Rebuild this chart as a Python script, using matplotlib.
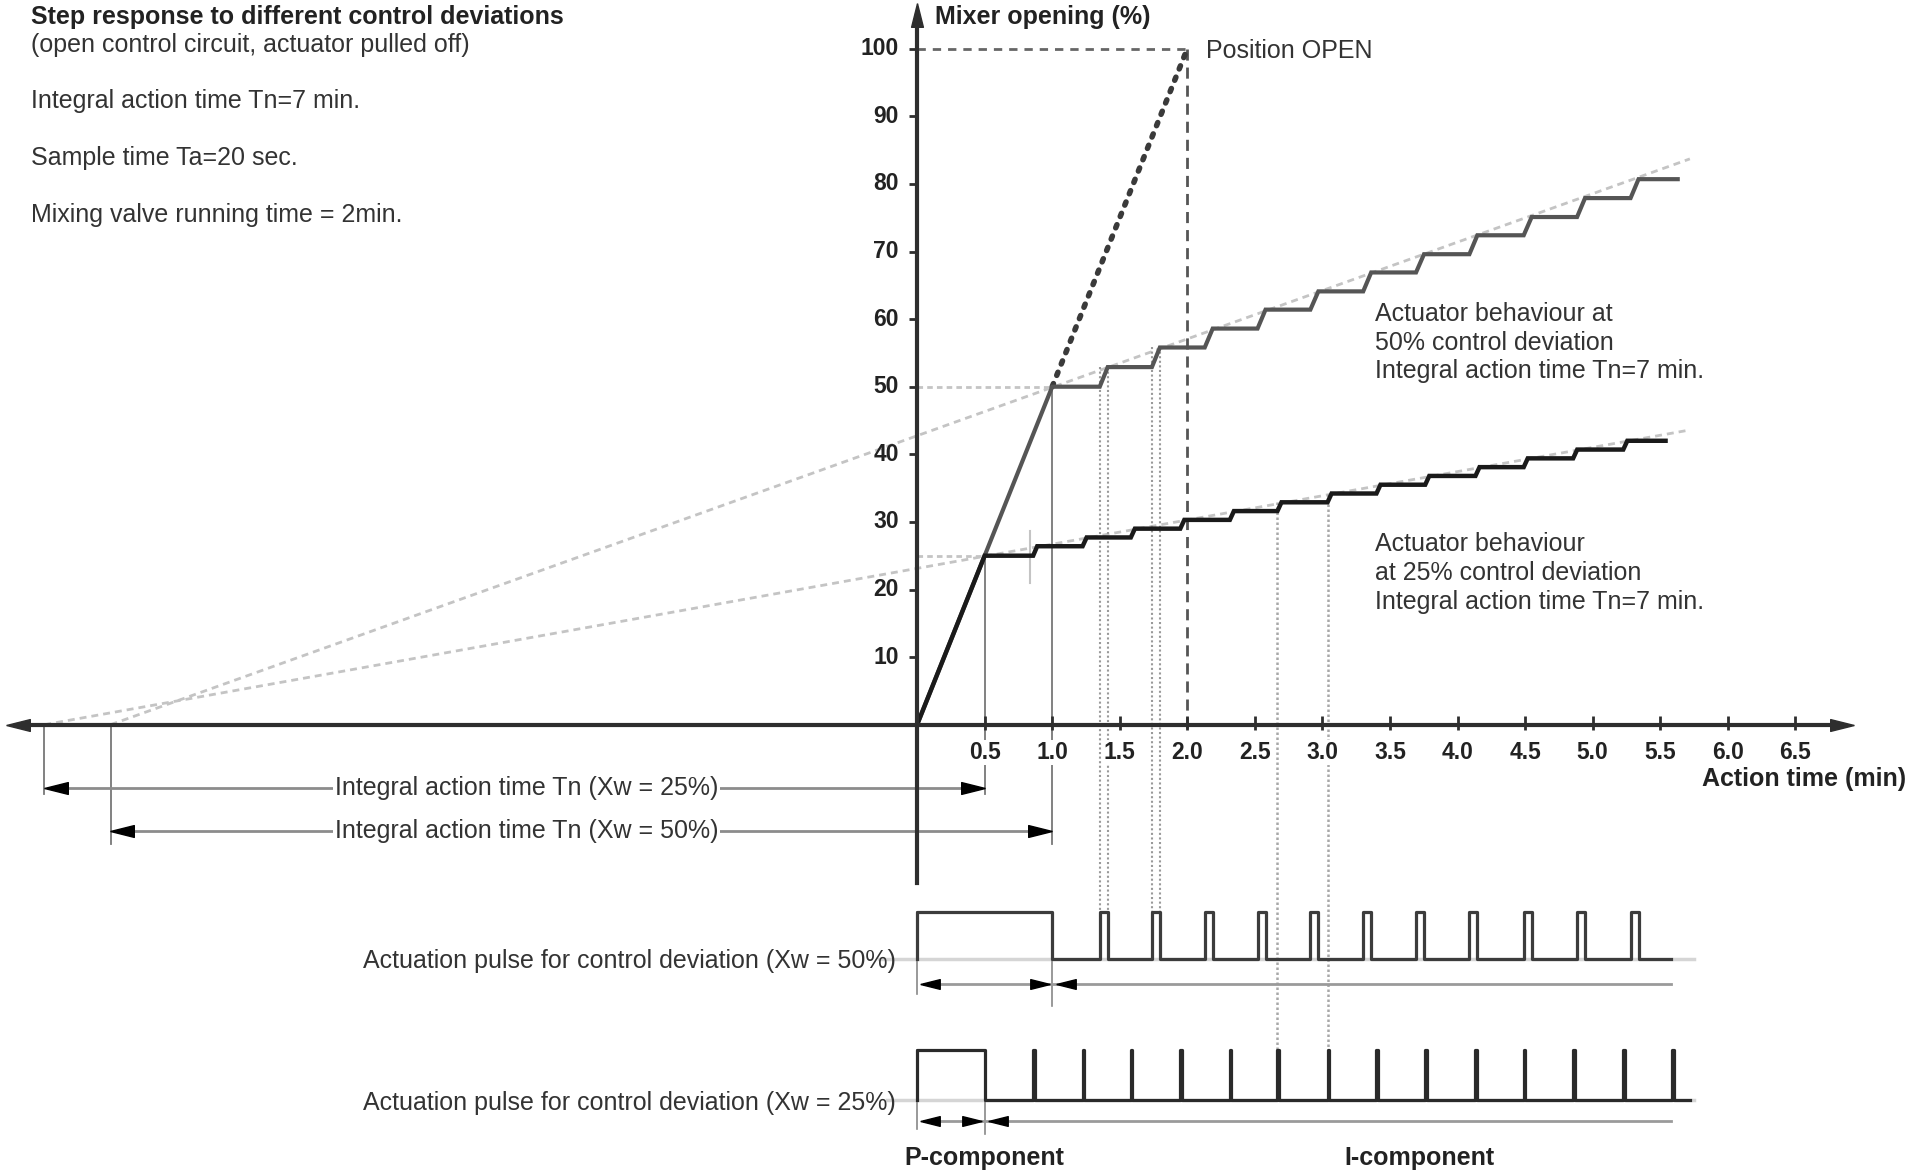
import numpy as np
import matplotlib.pyplot as plt

plt.rcParams['font.family'] = ['Liberation Sans', 'DejaVu Sans']

# --- data ---
x_ticks = [0.5, 1.0, 1.5, 2.0, 2.5, 3.0, 3.5, 4.0, 4.5, 5.0, 5.5, 6.0, 6.5]
x_tick_labels = ['0.5', '1.0', '1.5', '2.0', '2.5', '3.0', '3.5', '4.0', '4.5', '5.0', '5.5', '6.0', '6.5']
y_ticks = [10, 20, 30, 40, 50, 60, 70, 80, 90, 100]
y_tick_labels = ['10', '20', '30', '40', '50', '60', '70', '80', '90', '100']

valve_open_time = 2.0      # min until position OPEN
open_level = 100

# 50 % control deviation
p50_time = 1.0
pulse50_start = [1.352, 1.738, 2.129, 2.52, 2.911, 3.302, 3.693, 4.088, 4.49, 4.885, 5.281]
pulse50_width = 0.059
step50_levels = [50.0, 52.9, 55.8, 58.6, 61.4, 64.1, 66.9, 69.6, 72.4, 75.1, 77.9, 80.7]
curve50_end = 5.63
ref50_x = [-5.97, 5.72]
ref50_y = [0.0, 83.7]

# 25 % control deviation
p25_time = 0.5
pulse25_start = [0.859, 1.225, 1.582, 1.948, 2.315, 2.667, 3.038, 3.40, 3.761, 4.133, 4.49, 4.856, 5.227, 5.589]
pulse25_width = 0.012
step25_levels = [25.0, 26.4, 27.7, 29.0, 30.3, 31.6, 32.9, 34.2, 35.5, 36.8, 38.1, 39.4, 40.7, 42.0]
curve25_end = 5.54
ref25_x = [-6.46, 5.72]
ref25_y = [0.0, 43.6]

info_lines = ['(open control circuit, actuator pulled off)', 'Integral action time Tn=7 min.',
              'Sample time Ta=20 sec.', 'Mixing valve running time = 2min.']
note50 = ['Actuator behaviour at', '50% control deviation', 'Integral action time Tn=7 min.']
note25 = ['Actuator behaviour', 'at 25% control deviation', 'Integral action time Tn=7 min.']

# --- layout: map of the drawing (pixels of the 1910x1176 picture) ---
W, H = 1910, 1176
X0_PX, PX_PER_MIN = 917.1, 135.1
Y0_PX, PX_PER_PCT = 724.7, 6.76

fig = plt.figure(figsize=(W / 100, H / 100), dpi=100)
ax = fig.add_axes([0, 0, 1, 1])
ax.set_xlim(-X0_PX / PX_PER_MIN, (W - X0_PX) / PX_PER_MIN)
ax.set_ylim(-(H - Y0_PX) / PX_PER_PCT, Y0_PX / PX_PER_PCT)
ax.axis('off')

DARK = '#2e2e2e'
MID = '#555555'
LIGHT = '#c4c4c4'
TXT = '#333333'

HEAD_MS = 17
head_dx = 0.5 * HEAD_MS / 72 * 100 / PX_PER_MIN
head_dy = 0.5 * HEAD_MS / 72 * 100 / PX_PER_PCT
LEFT = [(-1, 0), (1, -0.5), (1, 0.5), (-1, 0)]
RIGHT = [(1, 0), (-1, -0.5), (-1, 0.5), (1, 0)]
UP = [(0, 1), (-0.5, -1), (0.5, -1), (0, 1)]


def head(x, y, kind, ms=HEAD_MS, color='black'):
    if kind == 'left':
        ax.plot(x + ms / HEAD_MS * head_dx, y, marker=LEFT, ms=ms, color=color, ls='none', zorder=6)
    elif kind == 'right':
        ax.plot(x - ms / HEAD_MS * head_dx, y, marker=RIGHT, ms=ms, color=color, ls='none', zorder=6)
    else:
        ax.plot(x, y - ms / HEAD_MS * head_dy, marker=UP, ms=ms, color=color, ls='none', zorder=6)


def step_curve(p_time, levels, starts, ramp, t_end):
    xs, ys = [0, p_time], [0, levels[0]]
    for i, t in enumerate(starts[:len(levels) - 1]):
        xs += [t, t + ramp]
        ys += [levels[i], levels[i + 1]]
    xs.append(t_end)
    ys.append(levels[-1])
    return xs, ys


def pulse_train(p_time, starts, width, low, high, t_end):
    xs, ys = [0, 0, p_time, p_time], [low, high, high, low]
    for t in starts:
        xs += [t, t, t + width, t + width]
        ys += [low, high, high, low]
    xs.append(t_end)
    ys.append(low)
    return xs, ys


# axes
ax.plot([-6.74 + head_dx, 6.93 - head_dx], [0, 0], color=DARK, lw=3, zorder=5)
head(-6.74, 0, 'left', color=DARK)
head(6.93, 0, 'right', color=DARK)
ax.plot([0, 0], [-23.4, 106.8 - head_dy], color=DARK, lw=3, zorder=5)
head(0, 106.8, 'up', color=DARK)
ax.vlines(x_ticks, -0.8, 1.3, color=DARK, lw=2, zorder=5)
ax.hlines(y_ticks, -0.06, 0, color=DARK, lw=2, zorder=5)
for x, lab in zip(x_ticks, x_tick_labels):
    ax.text(x, -4.1, lab, ha='center', va='center', fontsize=16.5, fontweight='bold', color='#222222',
            zorder=7, bbox=dict(facecolor='white', edgecolor='none', pad=0.5))
for y, lab in zip(y_ticks, y_tick_labels):
    ax.text(-0.135, y, lab, ha='right', va='center', fontsize=16.5, fontweight='bold', color='#222222')
ax.text(0.135, 104.7, 'Mixer opening (%)', ha='left', va='center', fontsize=18, fontweight='bold', color='#222222')
ax.text(7.32, -8.1, 'Action time (min)', ha='right', va='center', fontsize=18, fontweight='bold', color='#222222')

# reference lines (integral action)
ax.plot(ref50_x, ref50_y, color=LIGHT, lw=2, ls=(0, (2.5, 1.8)), zorder=2)
ax.plot(ref25_x, ref25_y, color=LIGHT, lw=2, ls=(0, (2.5, 1.8)), zorder=2)
ax.plot([0, p50_time], [step50_levels[0]] * 2, color=LIGHT, lw=2, ls=(0, (2, 1.5)), zorder=2)
ax.plot([0, p25_time], [step25_levels[0]] * 2, color=LIGHT, lw=2, ls=(0, (2, 1.5)), zorder=2)

# position OPEN
ax.plot([0, valve_open_time], [open_level] * 2, color='#666666', lw=2, ls=(0, (3, 2.5)), zorder=3)
ax.plot([valve_open_time] * 2, [open_level, -1], color='#555555', lw=2, ls=(0, (4, 2.5)), zorder=3)
ax.plot([p50_time, valve_open_time], [step50_levels[0], open_level], color='#3a3a3a', lw=4,
        ls=(0, (0.6, 1.6)), dash_capstyle='round', zorder=4)
ax.text(2.14, 99.6, 'Position OPEN', ha='left', va='center', fontsize=18, color=TXT)

# step responses
xs, ys = step_curve(p50_time, step50_levels, pulse50_start, pulse50_width, curve50_end)
ax.plot(xs, ys, color=MID, lw=3, zorder=4, solid_joinstyle='miter')
xs, ys = step_curve(p25_time, step25_levels, pulse25_start, 0.03, curve25_end)
ax.plot(xs, ys, color='#1a1a1a', lw=3.2, zorder=4, solid_joinstyle='miter')

# guide lines down to the axis / arrows
ax.plot([p25_time] * 2, [step25_levels[0], -10.3], color='#777777', lw=1.3, zorder=3)
ax.plot([p50_time] * 2, [step50_levels[0], -17.6], color='#777777', lw=1.3, zorder=3)
ax.plot([ref25_x[0]] * 2, [0, -10.3], color='#777777', lw=1.3, zorder=3)
ax.plot([ref50_x[0]] * 2, [0, -17.6], color='#777777', lw=1.3, zorder=3)
ax.plot([pulse25_start[0] - 0.025] * 2, [20.9, 28.6], color=LIGHT, lw=1.5, zorder=2)

# pulse-to-step guide lines
P50_HIGH, P50_LOW = -27.75, -34.6
P25_HIGH, P25_LOW = -48.1, -55.5
for i in range(2):
    for t in [pulse50_start[i], pulse50_start[i] + pulse50_width]:
        ax.plot([t, t], [step50_levels[i + 1], P50_HIGH], color='#9a9a9a', lw=1.5,
                ls=(0, (1, 1.2)), zorder=2)
for i in [5, 6]:
    t = pulse25_start[i]
    ax.plot([t, t], [step25_levels[i + 1], P25_HIGH], color='#a8a8a8', lw=1.8,
            ls=(0, (1, 1)), zorder=2)

# integral action time arrows
for (x0, x1, y, lab) in [(ref25_x[0], p25_time, -9.4, 'Integral action time Tn (Xw = 25%)'),
                         (ref50_x[0], p50_time, -15.7, 'Integral action time Tn (Xw = 50%)')]:
    ax.plot([x0 + head_dx, x1 - head_dx], [y, y], color='#8c8c8c', lw=2, zorder=3)
    head(x0, y, 'left')
    head(x1, y, 'right')
    ax.text(-4.31, y, lab, ha='left', va='center', fontsize=18, color=TXT, zorder=5,
            bbox=dict(facecolor='white', edgecolor='none', pad=1))

# actuation pulses
ax.plot([-0.28, 5.75], [P50_LOW] * 2, color='#d5d5d5', lw=2.5, zorder=2)
ax.plot([-0.22, 5.75], [P25_LOW] * 2, color='#d5d5d5', lw=2.5, zorder=2)
xs, ys = pulse_train(p50_time, pulse50_start, pulse50_width, P50_LOW, P50_HIGH, 5.58)
ax.plot(xs, ys, color='#3c3c3c', lw=2.3, zorder=4)
xs, ys = pulse_train(p25_time, pulse25_start, pulse25_width, P25_LOW, P25_HIGH, 5.72)
ax.plot(xs, ys, color='#2a2a2a', lw=2.3, zorder=4)

ax.plot([0, 0], [P50_HIGH, -39.8], color='#888888', lw=1.2, zorder=3)
ax.plot([p50_time] * 2, [P50_LOW, -41.6], color='#888888', lw=1.2, zorder=3)
ax.plot([0, 0], [P25_HIGH, -59.8], color='#888888', lw=1.2, zorder=3)
ax.plot([p25_time] * 2, [P25_LOW, -60.6], color='#888888', lw=1.2, zorder=3)

ARR_MS = 14
for (pt, y) in [(p50_time, -38.4), (p25_time, -58.6)]:
    ax.plot([0.05, 5.58], [y, y], color='#9a9a9a', lw=2, zorder=3)
    head(0.02, y, 'left', ms=ARR_MS)
    head(pt - 0.02, y, 'right', ms=ARR_MS)
    head(pt + 0.03, y, 'left', ms=ARR_MS)

ax.text(-0.16, -35.0, 'Actuation pulse for control deviation (Xw = 50%)', ha='right', va='center',
        fontsize=18, color=TXT)
ax.text(-0.16, -56.0, 'Actuation pulse for control deviation (Xw = 25%)', ha='right', va='center',
        fontsize=18, color=TXT)
ax.text(0.5, -64.1, 'P-component', ha='center', va='center', fontsize=18, fontweight='bold', color='#222222')
ax.text(3.72, -64.1, 'I-component', ha='center', va='center', fontsize=18, fontweight='bold', color='#222222')

# notes
for y, line in zip([60.7, 56.4, 52.3], note50):
    ax.text(3.39, y, line, ha='left', va='center', fontsize=18, color=TXT)
for y, line in zip([26.8, 22.5, 18.2], note25):
    ax.text(3.39, y, line, ha='left', va='center', fontsize=18, color=TXT)

# header block
fig.text(0.016, 0.9855, 'Step response to different control deviations', ha='left', va='center',
         fontsize=18, fontweight='bold', color='#222222')
for y, line in zip([0.9617, 0.914, 0.8653, 0.8176], info_lines):
    fig.text(0.016, y, line, ha='left', va='center', fontsize=18, color=TXT)

fig.savefig('out.png', dpi=100, facecolor='white')
